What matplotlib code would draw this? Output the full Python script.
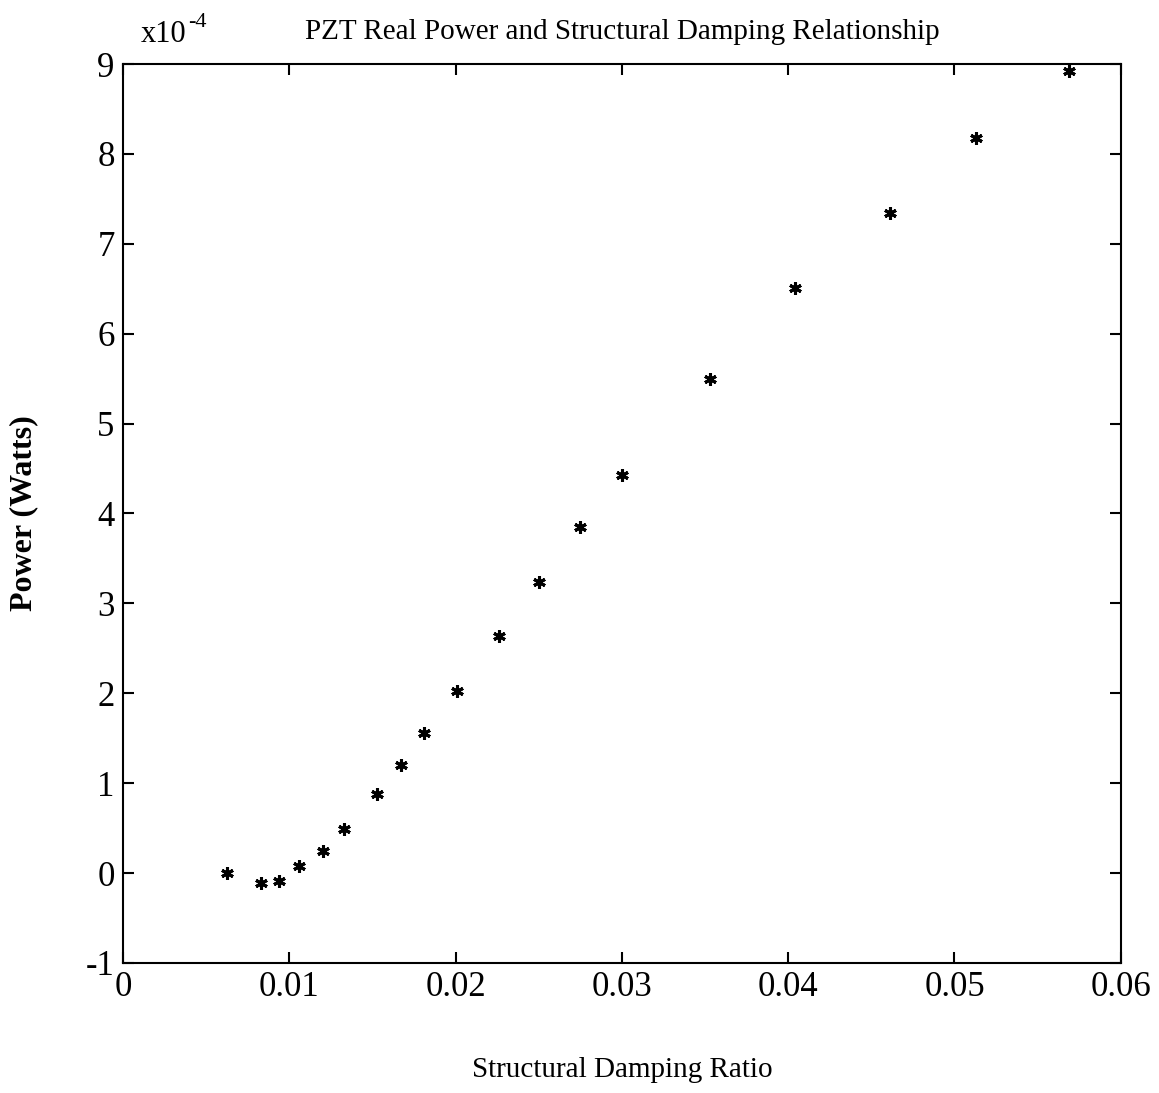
import matplotlib
matplotlib.use("Agg")
import matplotlib.pyplot as plt

# structural damping ratio vs. PZT real power (x1e-4 W)
damping_ratio = [0.00625, 0.0083, 0.0094, 0.0106, 0.0120, 0.0133, 0.0153, 0.0167,
                 0.0181, 0.0201, 0.0226, 0.0250, 0.0275, 0.0300, 0.0353, 0.0404,
                 0.0461, 0.0513, 0.0569]
power_e4 = [0.0, -0.11, -0.09, 0.08, 0.25, 0.49, 0.88, 1.20,
            1.56, 2.03, 2.64, 3.24, 3.85, 4.43, 5.50, 6.51,
            7.34, 8.18, 8.92]

xticks = [0, 0.01, 0.02, 0.03, 0.04, 0.05, 0.06]
xtick_labels = ["0", "0.01", "0.02", "0.03", "0.04", "0.05", "0.06"]
yticks = [-1, 0, 1, 2, 3, 4, 5, 6, 7, 8, 9]

plt.rcParams["font.family"] = ["Liberation Serif", "DejaVu Serif"]
plt.rcParams["axes.unicode_minus"] = False

fig = plt.figure(figsize=(11.59, 10.93), dpi=100)
ax = fig.add_axes([0.1061, 0.1190, 0.8609, 0.8224])

ax.plot(damping_ratio, power_e4, linestyle="none", marker=(6, 2, 0),
        markersize=9, markeredgewidth=2.2, color="black")

ax.set_xlim(0, 0.06)
ax.set_ylim(-1, 9)
ax.set_xticks(xticks)
ax.set_xticklabels(xtick_labels)
ax.set_yticks(yticks)
ax.tick_params(direction="in", length=8, width=1.5, labelsize=25,
               top=True, right=True, pad=6)
for s in ax.spines.values():
    s.set_linewidth(1.5)

ax.set_xlabel("Structural Damping Ratio", fontsize=21, labelpad=38)
ax.set_ylabel("Power (Watts)", fontsize=23, fontweight="bold", labelpad=34)
ax.set_title("PZT Real Power and Structural Damping Relationship", fontsize=21, pad=18)
fig.text(0.121, 0.962, "x10", fontsize=22, ha="left", va="baseline")
fig.text(0.162, 0.975, "-4", fontsize=16, ha="left", va="baseline")

fig.savefig("out.png", dpi=100, facecolor="white")
